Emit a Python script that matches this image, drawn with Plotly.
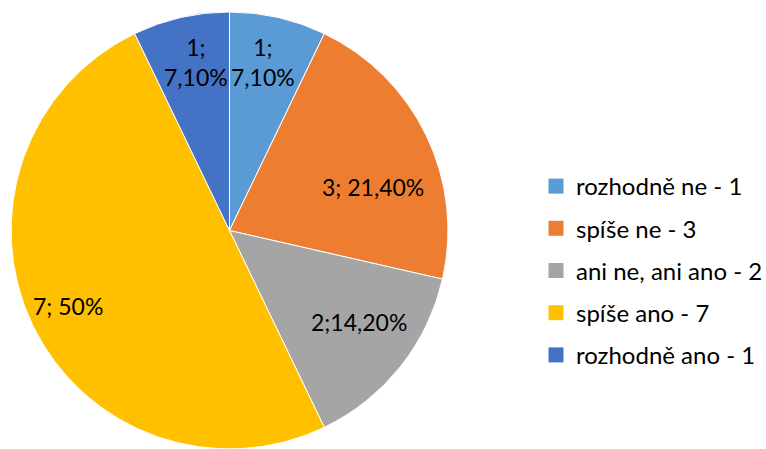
import math
import plotly.graph_objects as go

labels = ["rozhodně ne - 1", "spíše ne - 3", "ani ne, ani ano - 2", "spíše ano - 7", "rozhodně ano - 1"]
values = [1, 3, 2, 7, 1]
texts = ["1;<br>7,10%", "3; 21,40%", "2;14,20%", "7; 50%", "1;<br>7,10%"]
colors = ["#5B9BD5", "#ED7D31", "#A5A5A5", "#FFC000", "#4472C4"]

# label placement style (Excel "best fit"): radius fraction and angle nudge (deg)
label_r = [0.785, 0.685, 0.725, 0.815, 0.785]
label_da = [-1.5, 9.0, -3.5, 0.5, 1.5]

FONT = "Lato"
W, H = 766, 449
X0, X1, YT, YB = 11, 448, 12, 449  # pie box in pixels

fig = go.Figure()
fig.add_trace(go.Pie(
    labels=labels, values=values,
    textinfo="none",
    sort=False, direction="clockwise", rotation=0,
    marker=dict(colors=colors, line=dict(color="white", width=1)),
    showlegend=False, hoverinfo="label+value",
    domain=dict(x=[X0 / W, X1 / W], y=[1 - YB / H, 1 - YT / H]),
))

total = sum(values)
cx, cy, R = (X0 + X1) / 2, (YT + YB) / 2, (X1 - X0) / 2
cum = 0
for v, t, fr, da in zip(values, texts, label_r, label_da):
    mid = math.radians((cum + v / 2) / total * 360 + da)
    cum += v
    r = fr * R
    px = cx + r * math.sin(mid)
    py = cy - r * math.cos(mid)
    fig.add_annotation(x=px / W, y=1 - py / H, xref="paper", yref="paper",
                       xanchor="center", yanchor="middle",
                       text=t, showarrow=False,
                       font=dict(family=FONT, size=23, color="black"))

for lab, col in zip(labels, colors):
    fig.add_trace(go.Scatter(
        x=[None], y=[None], mode="markers", name=lab, legendgroup=lab,
        marker=dict(symbol="square", size=15, color=col),
    ))

fig.update_layout(
    width=W, height=H, margin=dict(l=0, r=0, t=0, b=0, autoexpand=False),
    paper_bgcolor="white", plot_bgcolor="white",
    xaxis=dict(visible=False), yaxis=dict(visible=False),
    legend=dict(x=536 / W, y=1 - 164 / H, xanchor="left", yanchor="top",
                font=dict(family=FONT, size=24, color="black"),
                tracegroupgap=8, itemwidth=30, bgcolor="rgba(0,0,0,0)"),
)
fig.write_html("out.html", config={"displayModeBar": False},
               post_script="document.body.style.margin='0';")
